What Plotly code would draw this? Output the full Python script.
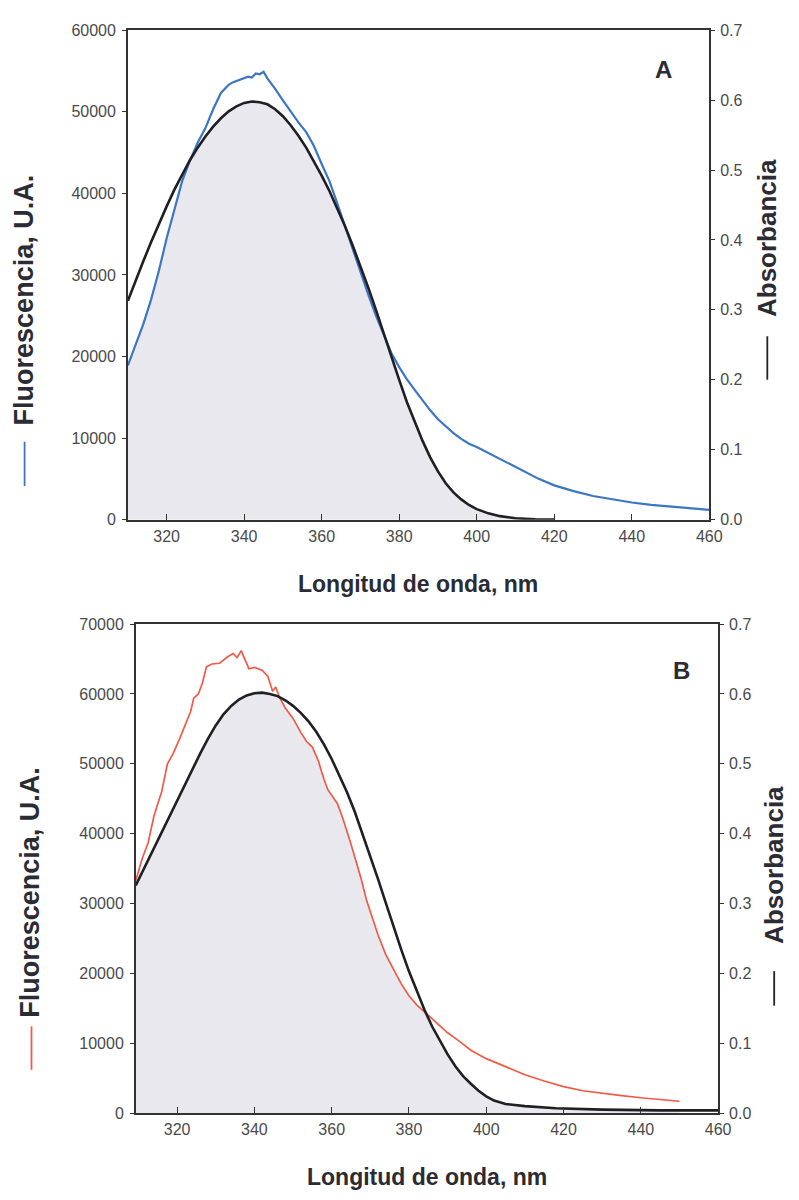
import numpy as np
import plotly.graph_objects as go

# ---------------- Panel A data ----------------
a_fl_nm = [310, 312, 314, 316, 318, 320, 322, 324, 326, 328, 330, 332, 334, 336, 337, 338, 339, 340,
           341, 342, 343, 344, 345, 346, 347, 348, 350, 352, 354, 356, 358, 360, 362, 364, 366, 368,
           370, 372, 374, 376, 378, 380, 382, 384, 386, 388, 390, 392, 394, 396, 398, 400, 404, 408,
           412, 416, 420, 425, 430, 435, 440, 445, 450, 455, 460]
a_fl = [18900, 21500, 24000, 27000, 30500, 34500, 38000, 41500, 44000, 46200, 48000, 50300, 52300,
        53300, 53600, 53800, 54000, 54100, 54300, 54200, 54700, 54600, 54900, 54100, 53500, 52800,
        51400, 50000, 48700, 47500, 45800, 43600, 41500, 38800, 36000, 33200, 30300, 27600, 25000,
        22600, 20400, 18700, 17200, 15900, 14600, 13400, 12300, 11400, 10600, 9900, 9300, 8900,
        7900, 7000, 6000, 5000, 4200, 3500, 2900, 2500, 2100, 1800, 1600, 1400, 1200]

a_abs_nm = [310, 312, 314, 316, 318, 320, 322, 324, 326, 328, 330, 332, 334, 336, 338, 340, 342, 344,
            346, 348, 350, 352, 354, 356, 358, 360, 362, 364, 366, 368, 370, 372, 374, 376, 378, 380,
            382, 384, 386, 388, 390, 392, 394, 396, 398, 400, 403, 406, 410, 415, 420]
a_abs = [0.313, 0.342, 0.370, 0.397, 0.423, 0.448, 0.472, 0.494, 0.514, 0.532, 0.548, 0.562, 0.574,
         0.584, 0.591, 0.596, 0.598, 0.597, 0.594, 0.587, 0.577, 0.564, 0.549, 0.532, 0.513, 0.492,
         0.470, 0.446, 0.420, 0.392, 0.363, 0.332, 0.300, 0.266, 0.232, 0.200, 0.168, 0.140, 0.113,
         0.089, 0.069, 0.052, 0.039, 0.029, 0.021, 0.015, 0.009, 0.005, 0.002, 0.0005, 0.0]

# ---------------- Panel B data ----------------
b_fl_nm = [309.3, 311, 312.5, 314, 315, 316, 317.5, 319, 320.8, 322, 323.5, 324.3, 325.5, 326.5,
           327.6, 329, 331, 333, 334.5, 335.5, 336.6, 337.5, 338.6, 340, 342, 343.5, 344.7, 345.5,
           346.5, 348, 350, 352, 353.5, 355, 356.5, 358, 359, 361.5, 363, 365, 367.6, 369, 370.2,
           372, 374, 376, 378, 380, 382, 384, 386, 388, 390, 393, 396, 400, 405, 410, 415, 420,
           425, 430, 435, 440, 445, 450]
b_fl = [33300, 36500, 38700, 42500, 44300, 46000, 50000, 51500, 53800, 55500, 57500, 59400, 60000,
        61500, 63900, 64300, 64400, 65300, 65800, 65200, 66200, 65000, 63600, 63800, 63400, 62500,
        60400, 61000, 59500, 58000, 56500, 54500, 53200, 52400, 50500, 47800, 46300, 44300, 42000,
        38500, 33600, 30500, 28400, 25500, 22700, 20500, 18500, 16800, 15500, 14500, 13500, 12500,
        11500, 10300, 9000, 7800, 6600, 5500, 4600, 3800, 3200, 2800, 2500, 2200, 1900, 1700]

b_abs_nm = [309.3, 310, 312, 314, 316, 318, 320, 322, 324, 326, 328, 330, 332, 334, 336, 338, 340, 342,
            344, 346, 348, 350, 352, 354, 356, 358, 360, 362, 364, 366, 368, 370, 372, 374, 376, 378,
            380, 382, 384, 386, 388, 390, 392, 394, 396, 398, 400, 402, 405, 410, 418, 430, 445, 460]
b_abs = [0.326, 0.334, 0.356, 0.378, 0.400, 0.423, 0.446, 0.469, 0.493, 0.515, 0.536, 0.555, 0.571,
         0.583, 0.592, 0.598, 0.601, 0.602, 0.600, 0.597, 0.591, 0.583, 0.573, 0.561, 0.546, 0.528,
         0.507, 0.484, 0.459, 0.431, 0.400, 0.368, 0.335, 0.301, 0.267, 0.234, 0.203, 0.174, 0.148,
         0.124, 0.103, 0.084, 0.067, 0.053, 0.042, 0.032, 0.024, 0.018, 0.013, 0.010, 0.007, 0.005,
         0.004, 0.004]

x_ticks = [320, 340, 360, 380, 400, 420, 440, 460]
a_left_ticks = [0, 10000, 20000, 30000, 40000, 50000, 60000]
b_left_ticks = [0, 10000, 20000, 30000, 40000, 50000, 60000, 70000]
right_ticks = [0.0, 0.1, 0.2, 0.3, 0.4, 0.5, 0.6, 0.7]
right_labels = ["0.0", "0.1", "0.2", "0.3", "0.4", "0.5", "0.6", "0.7"]

W, H = 799, 1200
BLUE = "#3b76c4"
RED = "#f25a46"
BLACK = "#1f1f24"
FILL = "#e8e8ee"
AXC = "#333333"
TICKC = "#4a4a4a"
TXT = "#2b2b33"
TICKFONT = dict(family="Liberation Sans, Arial, sans-serif", size=16, color=TICKC)
TITLEFONT = "Liberation Sans, Arial, sans-serif"


def fx(p):
    return p / W


def fy(p):
    return 1 - p / H


def overlap(fl_nm, fl, abs_nm, ab, ymax_left, ymax_right):
    lo = max(min(fl_nm), min(abs_nm))
    hi = min(max(fl_nm), max(abs_nm))
    grid = np.linspace(lo, hi, 800)
    f = np.interp(grid, fl_nm, fl)
    a = np.interp(grid, abs_nm, ab) * ymax_left / ymax_right
    return grid, np.minimum(f, a)


fig = go.Figure()

# Panel A
gA, oA = overlap(a_fl_nm, a_fl, a_abs_nm, a_abs, 60000, 0.7)
fig.add_trace(go.Scatter(x=gA, y=oA, mode="lines", fill="tozeroy", fillcolor=FILL,
                         line=dict(width=0), hoverinfo="skip", xaxis="x", yaxis="y", showlegend=False))
fig.add_trace(go.Scatter(x=a_fl_nm, y=a_fl, mode="lines", line=dict(color=BLUE, width=2.2),
                         xaxis="x", yaxis="y", showlegend=False))
fig.add_trace(go.Scatter(x=a_abs_nm, y=a_abs, mode="lines", line=dict(color=BLACK, width=2.6),
                         xaxis="x", yaxis="y2", showlegend=False))

# Panel B
gB, oB = overlap(b_fl_nm, b_fl, b_abs_nm, b_abs, 70000, 0.7)
fig.add_trace(go.Scatter(x=gB, y=oB, mode="lines", fill="tozeroy", fillcolor=FILL,
                         line=dict(width=0), hoverinfo="skip", xaxis="x2", yaxis="y3", showlegend=False))
fig.add_trace(go.Scatter(x=b_fl_nm, y=b_fl, mode="lines", line=dict(color=RED, width=1.7),
                         xaxis="x2", yaxis="y3", showlegend=False))
fig.add_trace(go.Scatter(x=b_abs_nm, y=b_abs, mode="lines", line=dict(color=BLACK, width=2.6),
                         xaxis="x2", yaxis="y4", showlegend=False))

xcommon = dict(tickvals=x_ticks, ticktext=[str(v) for v in x_ticks], ticks="inside", ticklen=6,
               tickcolor=AXC, tickwidth=1.3, showline=True, linecolor=AXC, linewidth=1.5, mirror=True,
               showgrid=False, zeroline=False, tickfont=TICKFONT, ticklabelstandoff=1)
ylcommon = dict(ticks="outside", ticklen=4, tickcolor=AXC, tickwidth=1.3, showline=True,
                linecolor=AXC, linewidth=1.5, showgrid=False, zeroline=False, tickfont=TICKFONT,
                ticklabelstandoff=3)
yrcommon = dict(tickvals=right_ticks, ticktext=right_labels, ticks="outside", ticklen=4, tickcolor=AXC,
                tickwidth=1.3, showline=True, linecolor=AXC, linewidth=1.5, showgrid=False,
                zeroline=False, tickfont=TICKFONT, side="right", range=[0, 0.7], ticklabelstandoff=2)

fig.update_layout(
    width=W, height=H, margin=dict(l=0, r=0, t=0, b=0),
    paper_bgcolor="white", plot_bgcolor="white", showlegend=False,
    xaxis=dict(domain=[fx(130), fx(721)], range=[310, 460], anchor="y", **xcommon),
    yaxis=dict(domain=[fy(519), fy(22.5)], range=[0, 60000], tickvals=a_left_ticks,
               ticktext=[str(v) for v in a_left_ticks], anchor="x", **ylcommon),
    yaxis2=dict(overlaying="y", anchor="x", **yrcommon),
    xaxis2=dict(domain=[fx(138), fx(730)], range=[309.3, 460], anchor="y3", **xcommon),
    yaxis3=dict(domain=[fy(1121), fy(625)], range=[0, 70000], tickvals=b_left_ticks,
                ticktext=[str(v) for v in b_left_ticks], anchor="x2", **ylcommon),
    yaxis4=dict(overlaying="y3", anchor="x2", **yrcommon),
)

ann = []
shapes = []
# x axis titles
for cx, cy in [(425, 584), (434, 1186)]:
    ann.append(dict(x=fx(cx), y=fy(cy), xref="paper", yref="paper", showarrow=False,
                    text="<b>Longitud de onda, nm</b>", xanchor="center", yanchor="middle",
                    font=dict(family=TITLEFONT, size=23, color=TXT)))
# left titles
for cx, cy, (l0, l1), col in [(24, 296, (440, 485), BLUE), (31, 897, (1033, 1077), RED)]:
    ann.append(dict(x=fx(cx), y=fy(cy), xref="paper", yref="paper", showarrow=False, textangle=-90,
                    text="<b>Fluorescencia, U.A.</b>", xanchor="center", yanchor="middle",
                    font=dict(family=TITLEFONT, size=27, color=TXT)))
    shapes.append(dict(type="line", xref="paper", yref="paper", x0=fx(cx + 1), x1=fx(cx + 1),
                       y0=fy(l0), y1=fy(l1), line=dict(color=col, width=1.8)))
# right titles
for cx, cy, (l0, l1) in [(779, 233, (333, 377)), (786, 869, (977, 1012))]:
    ann.append(dict(x=fx(cx), y=fy(cy), xref="paper", yref="paper", showarrow=False, textangle=-90,
                    text="<b>Absorbancia</b>", xanchor="center", yanchor="middle",
                    font=dict(family=TITLEFONT, size=26, color=TXT)))
    shapes.append(dict(type="line", xref="paper", yref="paper", x0=fx(cx + 1), x1=fx(cx + 1),
                       y0=fy(l0), y1=fy(l1), line=dict(color="#222222", width=1.8)))
# panel letters
for lab, cx, cy in [("A", 674, 62), ("B", 693, 672)]:
    ann.append(dict(x=fx(cx), y=fy(cy), xref="paper", yref="paper", showarrow=False,
                    text="<b>%s</b>" % lab, xanchor="center", yanchor="middle",
                    font=dict(family=TITLEFONT, size=24, color=TXT)))

fig.update_layout(annotations=ann, shapes=shapes)
fig.write_html("out.html")
